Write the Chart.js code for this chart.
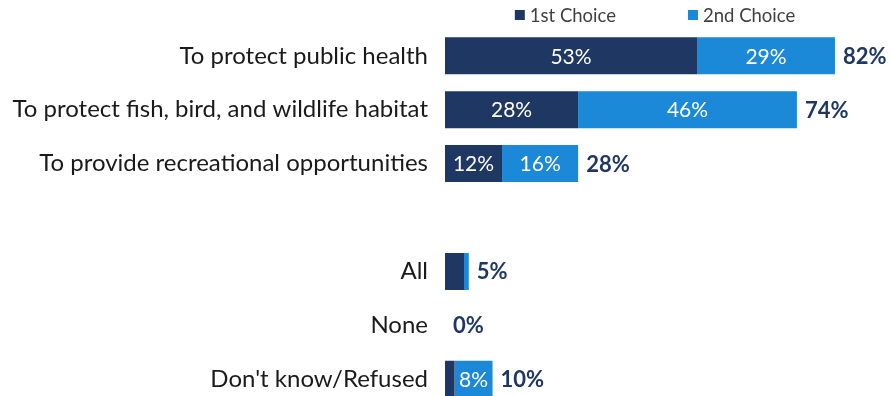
<!DOCTYPE html>
<html>
<head>
<meta charset="utf-8">
<script src="https://cdn.jsdelivr.net/npm/chart.js@4.4.0/dist/chart.umd.min.js"></script>
<style>
  html, body { margin: 0; padding: 0; background: #fff; overflow: hidden; }
  #wrap { width: 891px; height: 410px; }
  #choiceChart { display: block; width: 891px; height: 410px; }
</style>
</head>
<body>
<div id="wrap"><canvas id="choiceChart" width="891" height="410"></canvas></div>
<script>
// ====== DATA ======
const categories = [
  "To protect public health",
  "To protect fish, bird, and wildlife habitat",
  "To provide recreational opportunities",
  "",
  "All",
  "None",
  "Don't know/Refused"
];
const firstChoice = [53, 28, 12, null, 4, 0, 2];
const secondChoice = [29, 46, 16, null, 1, 0, 8];
const totals = [82, 74, 28, null, 5, 0, 10];

const DARK = "#1f3763";
const LIGHT = "#1b88d8";
const FONT = "Lato, 'Open Sans', sans-serif";

// ====== LABELS ON BARS ======
const barLabels = {
  id: "barLabels",
  afterDatasetsDraw(chart) {
    const ctx = chart.ctx;
    ctx.save();
    ctx.textBaseline = "middle";
    chart.data.datasets.forEach((ds, di) => {
      const meta = chart.getDatasetMeta(di);
      meta.data.forEach((bar, i) => {
        const v = ds.data[i];
        if (v == null || v < 5) return;
        ctx.font = "21px " + FONT;
        ctx.fillStyle = "#ffffff";
        ctx.textAlign = "center";
        ctx.fillText(v + "%", (bar.x + bar.base) / 2, bar.y + 1);
      });
    });
    // totals at the end of each stack
    const last = chart.getDatasetMeta(chart.data.datasets.length - 1);
    last.data.forEach((bar, i) => {
      if (totals[i] == null) return;
      ctx.font = "bold 22px " + FONT;
      ctx.fillStyle = DARK;
      ctx.textAlign = "left";
      ctx.fillText(totals[i] + "%", bar.x + 8, bar.y + 1);
    });
    ctx.restore();
  }
};

// ====== LEGEND ======
const topLegend = {
  id: "topLegend",
  afterDraw(chart) {
    const ctx = chart.ctx;
    const area = chart.chartArea;
    ctx.save();
    ctx.font = "18.5px " + FONT;
    ctx.textBaseline = "middle";
    ctx.textAlign = "left";
    const items = chart.data.datasets.map(ds => ({
      text: ds.label,
      color: ds.backgroundColor,
      w: 10 + 5 + ctx.measureText(ds.label).width
    }));
    const gap = 72;
    const total = items.reduce((s, it) => s + it.w, 0) + gap * (items.length - 1);
    let x = (area.left + area.right) / 2 - total / 2 - 4;
    const y = 15;
    items.forEach(it => {
      ctx.fillStyle = it.color;
      ctx.fillRect(x, y - 5, 10, 10);
      ctx.fillStyle = "#404040";
      ctx.fillText(it.text, x + 15, y + 1);
      x += it.w + gap;
    });
    ctx.restore();
  }
};

// ====== CHART ======
new Chart(document.getElementById("choiceChart").getContext("2d"), {
  type: "bar",
  data: {
    labels: categories,
    datasets: [
      {
        label: "1st Choice",
        data: firstChoice,
        backgroundColor: DARK,
        borderWidth: 0,
        barPercentage: 0.686,
        categoryPercentage: 1
      },
      {
        label: "2nd Choice",
        data: secondChoice,
        backgroundColor: LIGHT,
        borderWidth: 0,
        barPercentage: 0.686,
        categoryPercentage: 1
      }
    ]
  },
  options: {
    indexAxis: "y",
    responsive: false,
    maintainAspectRatio: false,
    animation: false,
    layout: { padding: { top: 28.85, right: 18, bottom: 3.85, left: 0 } },
    plugins: {
      legend: { display: false },
      tooltip: { enabled: false }
    },
    scales: {
      x: {
        stacked: true,
        display: false,
        min: 0,
        max: 90
      },
      y: {
        stacked: true,
        grid: { display: false, drawTicks: false },
        border: { display: false },
        ticks: {
          padding: 17,
          color: "#1a1a1a",
          font: { family: FONT, size: 24 }
        },
        afterFit(scale) {
          // fixed label column, no extra room above/below the rows
          scale.width = 445;
          scale.paddingTop = 0;
          scale.paddingBottom = 0;
        }
      }
    }
  },
  plugins: [barLabels, topLegend]
});
</script>
</body>
</html>
